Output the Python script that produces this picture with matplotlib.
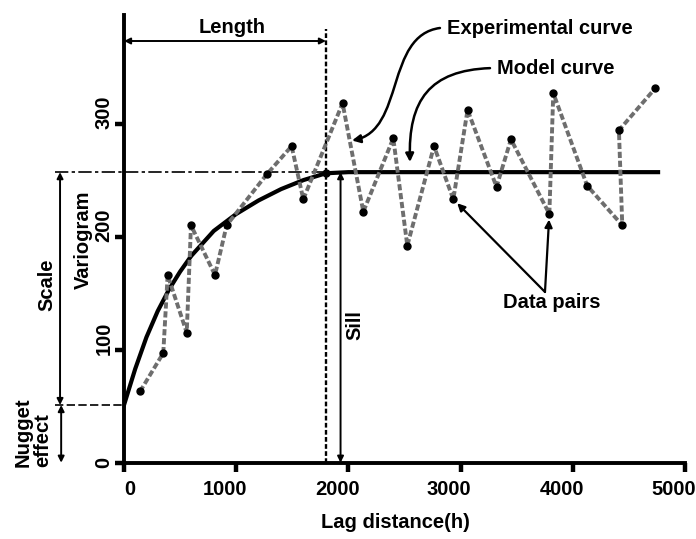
import matplotlib
matplotlib.use("Agg")
import matplotlib.pyplot as plt
import matplotlib.transforms as mtransforms
from matplotlib.patches import FancyArrowPatch
from matplotlib.path import Path

# experimental semivariogram: lag distance vs. value
lag = [143, 350, 389, 559, 597, 811, 915, 1272, 1494, 1598, 1948, 2133, 2400,
       2525, 2763, 2935, 3062, 3320, 3449, 3791, 3826, 4128, 4441, 4411, 4733]
gamma = [63, 97, 166, 115, 210, 166, 210, 255, 280, 233, 318, 222, 287,
         192, 280, 233, 312, 244, 286, 220, 327, 245, 210, 294, 331]

# fitted model curve
model_lag = [0, 100, 200, 300, 400, 500, 600, 800, 1000, 1200, 1400, 1600,
             1800, 2000, 4760]
model_gamma = [51, 83, 111, 134, 153, 169, 183, 205, 220, 232, 242, 250,
               256, 257, 257]

nugget = 51
sill = 257
length = 1800          # range
sill_x = 1930          # where the sill arrow is drawn
pair_targets = [15, 19]  # indices of points the "Data pairs" arrows point at

xticks = [0, 1000, 2000, 3000, 4000, 5000]
yticks = [0, 100, 200, 300]

plt.rcParams['font.family'] = ['Liberation Sans', 'DejaVu Sans']
plt.rcParams['font.weight'] = 'bold'
plt.rcParams['font.size'] = 14.5

fig = plt.figure(figsize=(6.96, 5.39), dpi=100)
ax = fig.add_axes([124 / 696, 1 - 462.7 / 539, 561 / 696, 447.7 / 539])
ax.set_xlim(0, 5000)
ax.set_ylim(0, 396)

for s in ['top', 'right']:
    ax.spines[s].set_visible(False)
for s in ['left', 'bottom']:
    ax.spines[s].set_linewidth(2.8)
ax.set_xticks(xticks)
ax.set_yticks(yticks)
ax.tick_params(direction='out', length=6.5, width=3.2,
               labelleft=False, labelbottom=False)

# tick labels (drawn by hand so they can sit like the original)
xoff = mtransforms.offset_copy(ax.get_xaxis_transform(), fig=fig, x=11, y=-27, units='dots')
for t in xticks:
    ax.text(t, 0, str(t), transform=xoff, ha='right', va='center')
yoff = mtransforms.offset_copy(ax.get_yaxis_transform(), fig=fig, x=-20, y=-5, units='dots')
for t in yticks:
    ax.text(0, t, str(t), transform=yoff, rotation=90, rotation_mode='anchor',
            ha='left', va='center')

# model and experimental curves
ax.plot(model_lag, model_gamma, color='black', lw=3, zorder=3)
ax.plot(lag, gamma, color='#6e6e6e', lw=2.8, dashes=(1.6, 0.7), zorder=4,
        marker='o', ms=5, mfc='black', mec='black')
ax.plot([length], [model_gamma[model_lag.index(length)]], 'o', color='black', ms=5, zorder=5)

# guide lines
ax.plot([-615, sill_x], [sill, sill], color='black', lw=1.2,
        ls=(0, (8, 2, 2, 2)), clip_on=False, zorder=2)
ax.plot([-615, 0], [nugget, nugget], color='black', lw=1.2,
        ls=(0, (5, 2)), clip_on=False, zorder=2)
ax.plot([length, length], [0, 384], color='black', lw=1.7,
        ls=(0, (2, 1)), clip_on=False, zorder=2)

arrow2 = dict(arrowstyle='<|-|>', lw=1.4, color='black', shrinkA=0, shrinkB=0,
              mutation_scale=9)
ax.annotate('', xy=(0, 373), xytext=(length, 373), arrowprops=arrow2,
            annotation_clip=False)
ax.text(967, 385, 'Length', ha='center', va='center')

ax.annotate('', xy=(-570, nugget), xytext=(-570, sill), arrowprops=arrow2,
            annotation_clip=False)
ax.text(-686, 157, 'Scale', rotation=90, ha='center', va='center')
ax.annotate('', xy=(-560, 0), xytext=(-560, nugget), arrowprops=arrow2,
            annotation_clip=False)
ax.text(-811, 27, 'Nugget\neffect', rotation=90, ha='center', va='center',
        multialignment='left', linespacing=1.05)

ax.annotate('', xy=(sill_x, 0), xytext=(sill_x, sill), arrowprops=arrow2,
            annotation_clip=False)
ax.text(2059, 122, 'Sill', rotation=90, ha='center', va='center')

ax.text(-366, 197, 'Variogram', rotation=90, ha='center', va='center')
fig.text(395 / 696, 1 - 523 / 539, 'Lag distance(h)', ha='center', va='center')

# curved call-outs
exp_path = Path([(2816, 384.5), (2326, 378), (2504, 294), (2032, 285)],
                [Path.MOVETO, Path.CURVE4, Path.CURVE4, Path.CURVE4])
ax.add_patch(FancyArrowPatch(path=exp_path, arrowstyle='-|>', mutation_scale=12,
                             lw=1.8, color='black', clip_on=False, zorder=6))
ax.text(2879, 384.5, 'Experimental curve', ha='left', va='center')

mod_path = Path([(3262, 349), (2727, 347), (2531, 321), (2549, 266)],
                [Path.MOVETO, Path.CURVE4, Path.CURVE4, Path.CURVE4])
ax.add_patch(FancyArrowPatch(path=mod_path, arrowstyle='-|>', mutation_scale=12,
                             lw=1.8, color='black', clip_on=False, zorder=6))
ax.text(3324, 349, 'Model curve', ha='left', va='center')

for i in pair_targets:
    ax.annotate('', xy=(lag[i], gamma[i]), xytext=(3752, 151),
                arrowprops=dict(arrowstyle='-|>', lw=1.6, color='black',
                                shrinkA=0, shrinkB=4, mutation_scale=11))
ax.text(3378, 142, 'Data pairs', ha='left', va='center')

fig.savefig('out.png', dpi=100)
